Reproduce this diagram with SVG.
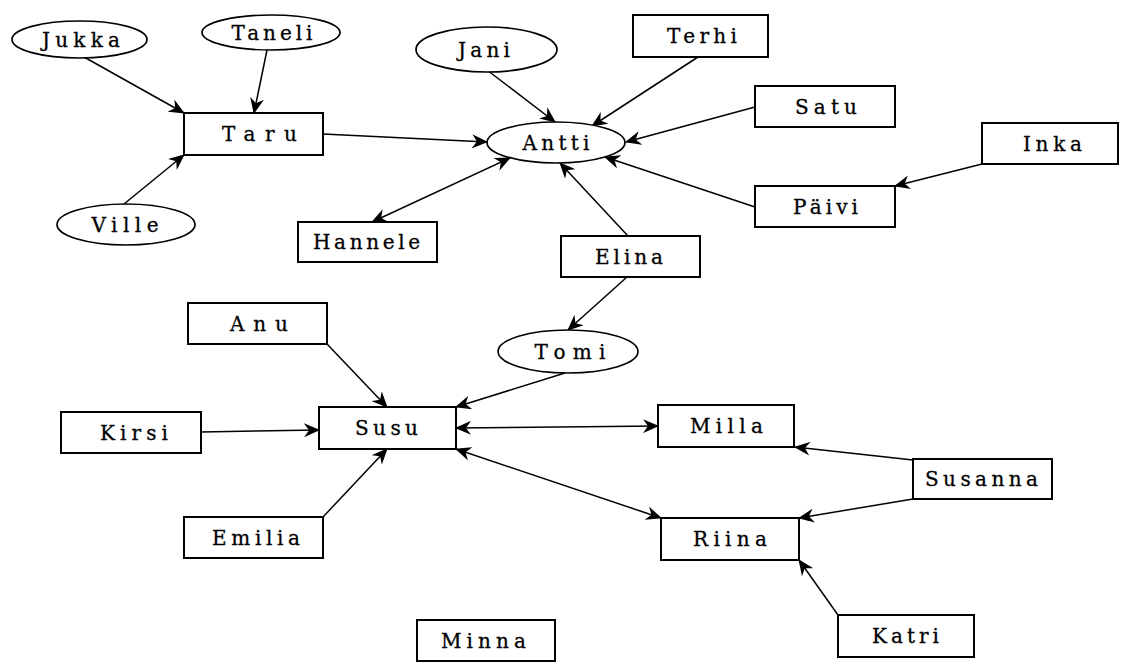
<svg xmlns="http://www.w3.org/2000/svg" width="1128" height="662" viewBox="0 0 1128 662">
<style>
.n rect,.n ellipse{fill:#fff;stroke:#000;stroke-width:2}
.n ellipse{stroke-width:1.7}
.n text{font-family:"DejaVu Serif","Liberation Serif",serif;font-size:20px;fill:#000;stroke:#000;stroke-width:0.3;text-anchor:middle}
#edges line{stroke:#000;stroke-width:1.5;marker-end:url(#ah)}
#edges line.bi{marker-start:url(#ah)}
</style>
<defs>
<marker id="ah" viewBox="0 0 16 14" refX="15" refY="7" markerWidth="16" markerHeight="14" markerUnits="userSpaceOnUse" orient="auto-start-reverse">
<path d="M0,0 L16,7 L0,14 L5,7 z" fill="#000"/>
</marker>
</defs>
<rect width="1128" height="662" fill="#fff"/>
<g id="edges">
<line x1="84" y1="57" x2="184" y2="113"/>
<line x1="267" y1="50" x2="254" y2="113"/>
<line x1="124" y1="204" x2="184" y2="155"/>
<line x1="323" y1="134" x2="487" y2="142"/>
<line class="bi" x1="372" y1="222" x2="510" y2="158"/>
<line x1="487" y1="70" x2="555" y2="122"/>
<line x1="698" y1="57" x2="592" y2="126"/>
<line x1="755" y1="107" x2="626" y2="142"/>
<line x1="755" y1="207" x2="605" y2="157"/>
<line x1="982" y1="164" x2="895" y2="186"/>
<line x1="628" y1="236" x2="560" y2="163"/>
<line x1="627" y1="277" x2="568" y2="330"/>
<line x1="565" y1="373" x2="456" y2="407"/>
<line class="bi" x1="456" y1="428" x2="658" y2="426"/>
<line class="bi" x1="456" y1="449" x2="661" y2="518"/>
<line x1="327" y1="344" x2="387" y2="407"/>
<line x1="201" y1="432" x2="319" y2="430"/>
<line x1="323" y1="517" x2="387" y2="449"/>
<line x1="913" y1="460" x2="795" y2="447"/>
<line x1="913" y1="499" x2="799" y2="518"/>
<line x1="838" y1="615" x2="799" y2="560"/>
</g>
<g id="Jukka" class="n"><ellipse cx="79.5" cy="39.5" rx="67.5" ry="18.5"/><text x="81" y="46.5" textLength="78" lengthAdjust="spacing">Jukka</text></g>
<g id="Taneli" class="n"><ellipse cx="271" cy="32.5" rx="69" ry="17.5"/><text x="272" y="39.5" textLength="81" lengthAdjust="spacing">Taneli</text></g>
<g id="Ville" class="n"><ellipse cx="126" cy="224.5" rx="69" ry="20.5"/><text x="125" y="231.5" textLength="67" lengthAdjust="spacing">Ville</text></g>
<g id="Jani" class="n"><ellipse cx="486.5" cy="49.5" rx="70.5" ry="22.5"/><text x="484" y="56.5" textLength="52" lengthAdjust="spacing">Jani</text></g>
<g id="Antti" class="n"><ellipse cx="556" cy="142.5" rx="69" ry="20.5"/><text x="556" y="149.5" textLength="67" lengthAdjust="spacing">Antti</text></g>
<g id="Tomi" class="n"><ellipse cx="568" cy="351.5" rx="70" ry="21.5"/><text x="570" y="358.5" textLength="71" lengthAdjust="spacing">Tomi</text></g>
<g id="Taru" class="n"><rect x="184" y="113" width="139" height="42"/><text x="259.5" y="141" textLength="75" lengthAdjust="spacing">Taru</text></g>
<g id="Hannele" class="n"><rect x="298" y="222" width="139" height="40"/><text x="366.5" y="249" textLength="107" lengthAdjust="spacing">Hannele</text></g>
<g id="Terhi" class="n"><rect x="633" y="15" width="135" height="42"/><text x="702" y="43" textLength="70" lengthAdjust="spacing">Terhi</text></g>
<g id="Satu" class="n"><rect x="755" y="86" width="140" height="41"/><text x="826" y="113.5" textLength="62" lengthAdjust="spacing">Satu</text></g>
<g id="Paivi" class="n"><rect x="755" y="186" width="140" height="41"/><text x="825.5" y="213.5" textLength="65" lengthAdjust="spacing">Päivi</text></g>
<g id="Inka" class="n"><rect x="982" y="123" width="136" height="41"/><text x="1052.5" y="150.5" textLength="59" lengthAdjust="spacing">Inka</text></g>
<g id="Elina" class="n"><rect x="561" y="236" width="139" height="41"/><text x="629" y="263.5" textLength="68" lengthAdjust="spacing">Elina</text></g>
<g id="Anu" class="n"><rect x="188" y="303" width="139" height="41"/><text x="259" y="330.5" textLength="58" lengthAdjust="spacing">Anu</text></g>
<g id="Kirsi" class="n"><rect x="61" y="412" width="140" height="41"/><text x="134" y="439.5" textLength="68" lengthAdjust="spacing">Kirsi</text></g>
<g id="Susu" class="n"><rect x="319" y="407" width="137" height="42"/><text x="386.5" y="435" textLength="63" lengthAdjust="spacing">Susu</text></g>
<g id="Milla" class="n"><rect x="658" y="405" width="136" height="42"/><text x="726.5" y="433" textLength="73" lengthAdjust="spacing">Milla</text></g>
<g id="Susanna" class="n"><rect x="913" y="459" width="139" height="40"/><text x="981.5" y="486" textLength="113" lengthAdjust="spacing">Susanna</text></g>
<g id="Emilia" class="n"><rect x="184" y="517" width="139" height="41"/><text x="256" y="544.5" textLength="88" lengthAdjust="spacing">Emilia</text></g>
<g id="Riina" class="n"><rect x="661" y="518" width="138" height="42"/><text x="730" y="546" textLength="74" lengthAdjust="spacing">Riina</text></g>
<g id="Katri" class="n"><rect x="838" y="615" width="136" height="42"/><text x="905.5" y="643" textLength="67" lengthAdjust="spacing">Katri</text></g>
<g id="Minna" class="n"><rect x="417" y="620" width="138" height="41"/><text x="483.5" y="648" textLength="85" lengthAdjust="spacing">Minna</text></g>
</svg>
